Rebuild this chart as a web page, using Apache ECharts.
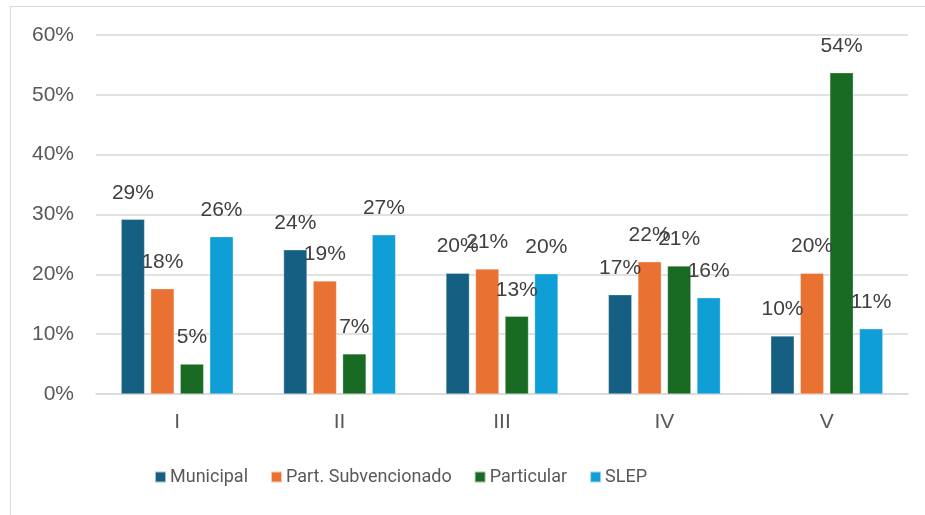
<!DOCTYPE html>
<html>
<head>
<meta charset="utf-8">
<script src="https://cdn.jsdelivr.net/npm/echarts@6/dist/echarts.min.js"></script>
<style>
  html, body { margin: 0; padding: 0; background: #fff; }
  #frame {
    position: absolute; left: 10px; top: 6px; width: 930px; height: 520px;
    border: 1px solid #d9d9d9; box-sizing: border-box;
  }
  #chart { position: absolute; left: 0; top: 0; width: 925px; height: 515px; }
</style>
</head>
<body>
<div id="frame"></div>
<div id="chart"></div>
<script>
// categorías (quintiles) y series
const categories = ['I', 'II', 'III', 'IV', 'V']
const municipal = [29.2, 24.1, 20.2, 16.6, 9.7]
const partSubvencionado = [17.6, 18.9, 20.9, 22.1, 20.2]
const particular = [5.0, 6.7, 13.0, 21.4, 53.7]
const slep = [26.3, 26.6, 20.1, 16.1, 10.9]

const seriesNames = ['Municipal', 'Part. Subvencionado', 'Particular', 'SLEP']
const seriesData = [municipal, partSubvencionado, particular, slep]
const colors = ['#156082', '#E97132', '#196B24', '#0F9ED5']
const yTicks = [0, 10, 20, 30, 40, 50, 60]

const chart = echarts.init(document.getElementById('chart'))

const option = {
    animation: false,
    color: colors,
    textStyle: { fontFamily: 'Liberation Sans, Arial, sans-serif' },
    grid: { left: 96, right: 17, top: 35, bottom: 121 },
    legend: {
        bottom: 24,
        left: 149,
        icon: 'rect',
        itemWidth: 11,
        itemHeight: 11,
        itemGap: 22,
        textStyle: { color: '#595959', fontSize: 18, fontFamily: 'Roboto, sans-serif', padding: [0, 0, 0, -1] },
        data: seriesNames
    },
    xAxis: {
        type: 'category',
        data: categories,
        axisLine: { lineStyle: { color: '#d9d9d9', width: 1.5 } },
        axisTick: { show: false },
        axisLabel: { color: '#595959', fontSize: 21, margin: 18 }
    },
    yAxis: {
        type: 'value',
        min: yTicks[0],
        max: yTicks[yTicks.length - 1],
        interval: 10,
        axisLine: { show: false },
        axisTick: { show: false },
        splitLine: { lineStyle: { color: '#d9d9d9', width: 1.5 } },
        axisLabel: { color: '#595959', fontSize: 21, margin: 22, formatter: v => v + '%' }
    },
    series: seriesData.map((data, i) => ({
        name: seriesNames[i],
        type: 'bar',
        data: data,
        barGap: '26%',
        barCategoryGap: '31%',
        itemStyle: { color: colors[i], borderColor: 'rgba(255,255,255,0.6)', borderWidth: 0.5 },
        label: {
            show: true,
            position: 'top',
            distance: 16,
            color: '#404040',
            fontSize: 21,
            formatter: p => Math.round(p.value) + '%'
        }
    }))
}
chart.setOption(option)
</script>
</body>
</html>
